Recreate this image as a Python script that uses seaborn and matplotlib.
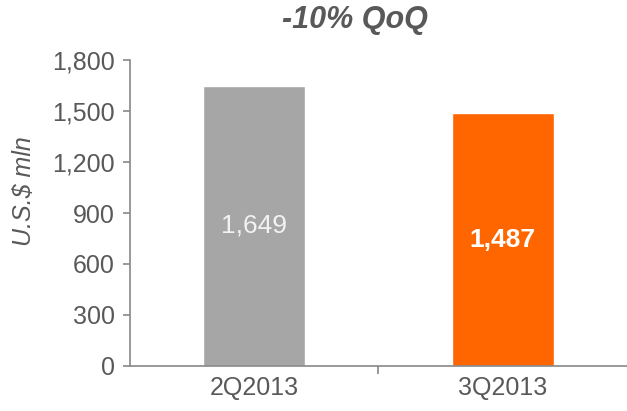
import pandas as pd
import matplotlib
matplotlib.use('Agg')
import matplotlib.pyplot as plt
import seaborn as sns

quarters = ['2Q2013', '3Q2013']
revenue = [1649, 1487]
bar_colors = ['#A6A6A6', '#FF6600']

df = pd.DataFrame({'quarter': quarters, 'revenue': revenue})

sns.set_style('white')
plt.rcParams['font.family'] = ['Liberation Sans', 'DejaVu Sans']

fig = plt.figure(figsize=(6.27, 4.11), dpi=100)
ax = fig.add_axes([0.2073, 0.1095, 0.7927, 0.7445])

sns.barplot(data=df, x='quarter', y='revenue', hue='quarter', palette=bar_colors,
            width=0.41, legend=False, ax=ax, saturation=1)

ax.set_ylim(0, 1800)
ax.set_xlim(-0.5, 1.5)
ax.set_yticks(range(0, 1801, 300))
ax.set_yticklabels([f'{v:,}' for v in range(0, 1801, 300)])

grey = '#888888'
for s in ['top', 'right']:
    ax.spines[s].set_visible(False)
for s in ['left', 'bottom']:
    ax.spines[s].set_color(grey)
    ax.spines[s].set_linewidth(1.2)

ax.tick_params(axis='y', which='major', direction='out', length=5, color=grey,
               width=1.2, left=True, labelsize=18, labelcolor='#595959', pad=6)
ax.tick_params(axis='x', which='major', length=0, labelsize=18, labelcolor='#595959', pad=7)
ax.set_xticks([0.5], minor=True)
ax.tick_params(axis='x', which='minor', direction='out', length=6, color=grey, width=1.2, bottom=True)

ax.set_xlabel('')
ax.set_ylabel('U.S.$ mln', fontsize=18, style='italic', color='#595959')
ax.yaxis.set_label_coords(-0.19, 0.572)

# value labels inside bars
ax.text(0, revenue[0] / 2, f'{revenue[0]:,}', ha='center', va='center',
        fontsize=19, color='#F2F2F2')
ax.text(1, revenue[1] / 2, f'{revenue[1]:,}', ha='center', va='center',
        fontsize=19, color='white', fontweight='bold')

fig.text(0.566, 0.951, '-10% QoQ', ha='center', va='center', fontsize=22,
         fontweight='bold', style='italic', color='#595959')

fig.savefig('out.png', dpi=100)
